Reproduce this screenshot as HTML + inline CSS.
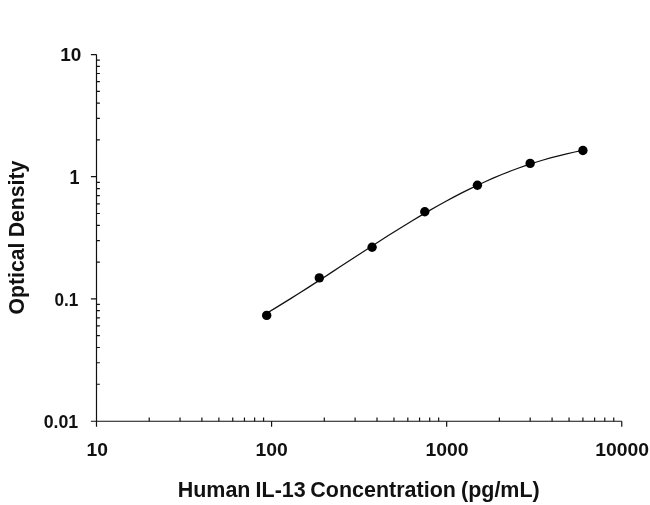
<!DOCTYPE html>
<html><head><meta charset="utf-8"><title>Human IL-13 Standard Curve</title>
<style>
html,body{margin:0;padding:0;background:#fff}
svg{display:block}
.t{font-family:"Liberation Sans",sans-serif;font-weight:bold;font-size:19px;fill:#111}
.l{font-family:"Liberation Sans",sans-serif;font-weight:bold;font-size:22.5px;fill:#111}
</style></head><body>
<svg width="650" height="505" viewBox="0 0 650 505">
<rect width="650" height="505" fill="#fff"/>
<path d="M96.50 54.57V421.25H621.75" fill="none" stroke="#111" stroke-width="1.2"/>
<path d="M90.9 54.57H96.50M96.50 139.95H99.9M96.50 118.44H99.9M96.50 103.18H99.9M96.50 91.34H99.9M96.50 81.67H99.9M96.50 73.49H99.9M96.50 66.41H99.9M96.50 60.16H99.9M90.9 176.72H96.50M96.50 262.10H99.9M96.50 240.59H99.9M96.50 225.33H99.9M96.50 213.49H99.9M96.50 203.82H99.9M96.50 195.64H99.9M96.50 188.56H99.9M96.50 182.31H99.9M90.9 298.87H96.50M96.50 384.25H99.9M96.50 362.74H99.9M96.50 347.48H99.9M96.50 335.64H99.9M96.50 325.97H99.9M96.50 317.79H99.9M96.50 310.71H99.9M96.50 304.46H99.9M90.9 421.25H96.50M96.50 421.25V426.65M149.21 421.25V417.60M180.04 421.25V417.60M201.91 421.25V417.60M218.88 421.25V417.60M232.74 421.25V417.60M244.46 421.25V417.60M254.62 421.25V417.60M263.57 421.25V417.60M271.58 421.25V426.65M324.29 421.25V417.60M355.12 421.25V417.60M376.99 421.25V417.60M393.96 421.25V417.60M407.82 421.25V417.60M419.55 421.25V417.60M429.70 421.25V417.60M438.66 421.25V417.60M446.67 421.25V426.65M499.37 421.25V417.60M530.20 421.25V417.60M552.08 421.25V417.60M569.04 421.25V417.60M582.91 421.25V417.60M594.63 421.25V417.60M604.78 421.25V417.60M613.74 421.25V417.60M621.75 421.25V426.65" fill="none" stroke="#111" stroke-width="1.2"/>
<path d="M266.70 313.20 L274.81 308.35 L282.92 303.40 L291.02 298.37 L299.13 293.27 L307.24 288.11 L315.35 282.90 L323.45 277.65 L331.56 272.37 L339.67 267.08 L347.78 261.78 L355.88 256.48 L363.99 251.20 L372.10 245.95 L380.21 240.74 L388.32 235.58 L396.42 230.48 L404.53 225.45 L412.64 220.50 L420.75 215.65 L428.85 210.90 L436.96 206.27 L445.07 201.77 L453.18 197.40 L461.28 193.17 L469.39 189.10 L477.50 185.19 L485.61 181.45 L493.72 177.88 L501.82 174.49 L509.93 171.28 L518.04 168.26 L526.15 165.41 L534.25 162.74 L542.36 160.25 L550.47 157.94 L558.58 155.79 L566.68 153.81 L574.79 151.99 L582.90 150.31" fill="none" stroke="#111" stroke-width="1.25"/>
<circle cx="266.70" cy="315.40" r="4.7" fill="#000"/>
<circle cx="319.30" cy="277.90" r="4.7" fill="#000"/>
<circle cx="372.10" cy="247.30" r="4.7" fill="#000"/>
<circle cx="424.80" cy="211.80" r="4.7" fill="#000"/>
<circle cx="477.40" cy="185.30" r="4.7" fill="#000"/>
<circle cx="530.15" cy="163.40" r="4.7" fill="#000"/>
<circle cx="582.90" cy="150.50" r="4.7" fill="#000"/>
<text class="t" transform="translate(86.43 455.78) scale(1.0144 0.9907)">10</text>
<text class="t" transform="translate(255.53 455.78) scale(1.0194 0.9907)">100</text>
<text class="t" transform="translate(425.53 455.78) scale(1.0186 0.9907)">1000</text>
<text class="t" transform="translate(595.22 455.78) scale(1.0201 0.9907)">10000</text>
<text class="t" transform="translate(60.15 61.40) scale(0.9987 0.9944)">10</text>
<text class="t" transform="translate(69.51 183.67) scale(0.9486 1.0231)">1</text>
<text class="t" transform="translate(54.47 305.70) scale(0.9015 0.9944)">0.1</text>
<text class="t" transform="translate(43.70 427.85) scale(0.9343 0.9944)">0.01</text>
<text class="l" transform="translate(0 496.85) scale(0.9546 1)"><tspan x="186.15">Human </tspan><tspan x="267.74">IL-13 </tspan><tspan x="325.11">Concentration </tspan><tspan x="482.97">(pg/mL)</tspan></text>
<text class="l" transform="translate(24.20 0) rotate(-90) scale(0.9430 1)"><tspan x="-333.44">Optical </tspan><tspan x="-251.60">Density</tspan></text>
</svg>
</body></html>
